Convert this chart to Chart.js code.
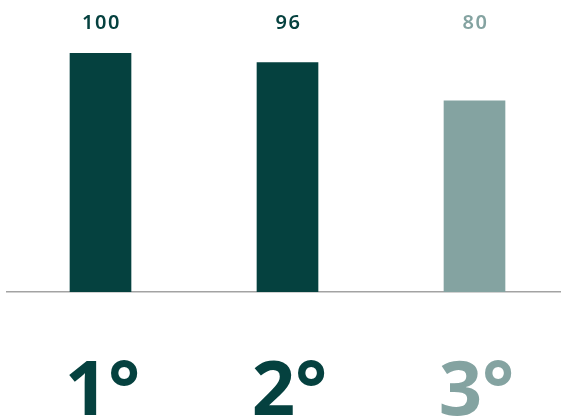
<!DOCTYPE html>
<html>
<head>
<meta charset="utf-8">
<script src="https://cdn.jsdelivr.net/npm/chart.js@4/dist/chart.umd.min.js"></script>
<style>
  html, body { margin: 0; padding: 0; background: #fff; overflow: hidden; }
  #wrap { position: relative; width: 568px; height: 419px; }
</style>
</head>
<body>
<div id="wrap"><canvas id="chart"></canvas></div>
<script>
const categories = ["1°", "2°", "3°"];
const values = [100, 96, 80];
const barColors = ["#05413f", "#05413f", "#84a3a1"];

// draws the value above each bar and the big place label under the axis
const labelPlugin = {
  id: "labels",
  afterDatasetsDraw(chart) {
    const ctx = chart.ctx;
    const meta = chart.getDatasetMeta(0);
    ctx.save();
    ctx.textAlign = "center";
    ctx.textBaseline = "alphabetic";
    meta.data.forEach((bar, i) => {
      ctx.fillStyle = barColors[i];
      ctx.font = "600 20px 'Noto Sans'";
      ctx.letterSpacing = "1.5px";
      ctx.fillText(String(values[i]), bar.x + 1, 29);
      ctx.letterSpacing = "0px";
      ctx.font = "700 76px 'Noto Sans'";
      ctx.fillText(categories[i], bar.x + 2, 415);
    });
    ctx.restore();
  }
};

new Chart(document.getElementById("chart"), {
  type: "bar",
  data: {
    labels: categories,
    datasets: [{
      data: values,
      backgroundColor: barColors,
      barThickness: 61
    }]
  },
  options: {
    responsive: true,
    maintainAspectRatio: false,
    animation: false,
    layout: { padding: { top: 53, bottom: 119, left: 7, right: 0 } },
    plugins: { legend: { display: false }, tooltip: { enabled: false } },
    scales: {
      x: {
        grid: { display: false },
        ticks: { display: false },
        border: { display: true, color: "#a3a3a3", width: 1.5 }
      },
      y: {
        display: false,
        min: 0,
        max: 100
      }
    }
  },
  plugins: [labelPlugin]
});
</script>
</body>
</html>
